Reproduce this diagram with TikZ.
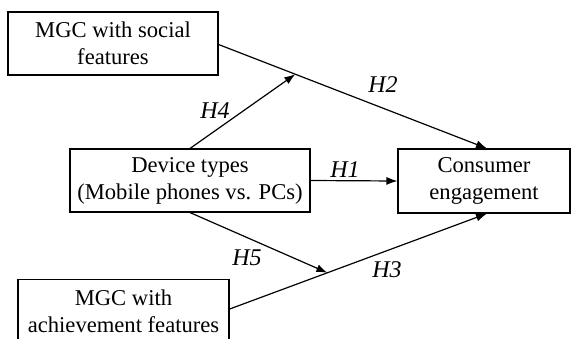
\documentclass[tikz,border=0pt]{standalone}
\usepackage{fontspec}
\setmainfont{Liberation Serif}
\usetikzlibrary{arrows.meta}
\begin{document}
\begin{tikzpicture}[x=1pt,y=-1pt,
  box/.style={draw,line width=1.1pt,align=center,inner sep=0pt,font=\fontsize{22.6}{27}\selectfont},
  conn/.style={line width=1.2pt,-{Latex[length=11pt,width=8pt]}},
  hlab/.style={inner sep=0pt,font=\fontsize{24}{27}\selectfont\itshape}]
\useasboundingbox (0,0) rectangle (572,338);
\clip (0,0) rectangle (572,338);
\node[box,minimum width=210,minimum height=63] (b1) at (113,43.5) {MGC with social\\features};
\node[box,minimum width=240,minimum height=63] (dev) at (190,180.5) {Device types\\(Mobile phones vs. PCs)};
\node[box,minimum width=172,minimum height=64] (cons) at (484,181) {Consumer\\engagement};
\node[box,minimum width=211,minimum height=63,anchor=north] (bot) at (123.5,279) {MGC with\\achievement features};
\draw[conn] ([yshift=-1]b1.east) -- ([xshift=3]cons.north) coordinate[pos=0.286] (m1);
\draw[conn] ([yshift=2]bot.east) -- ([xshift=3]cons.south) coordinate[pos=0.38] (m2);
\draw[conn] (dev.north) -- (m1);
\draw[conn] (dev.south) -- (m2);
\draw[conn] (dev.east) -- (cons.west);
\node[hlab] (h4) at (215,111) {H4};
\node[hlab] (h2) at (383,85) {H2};
\node[hlab] (h1) at (345,170) {H1};
\node[hlab] (h5) at (247,258) {H5};
\node[hlab] (h3) at (387,270) {H3};
\end{tikzpicture}
\end{document}
